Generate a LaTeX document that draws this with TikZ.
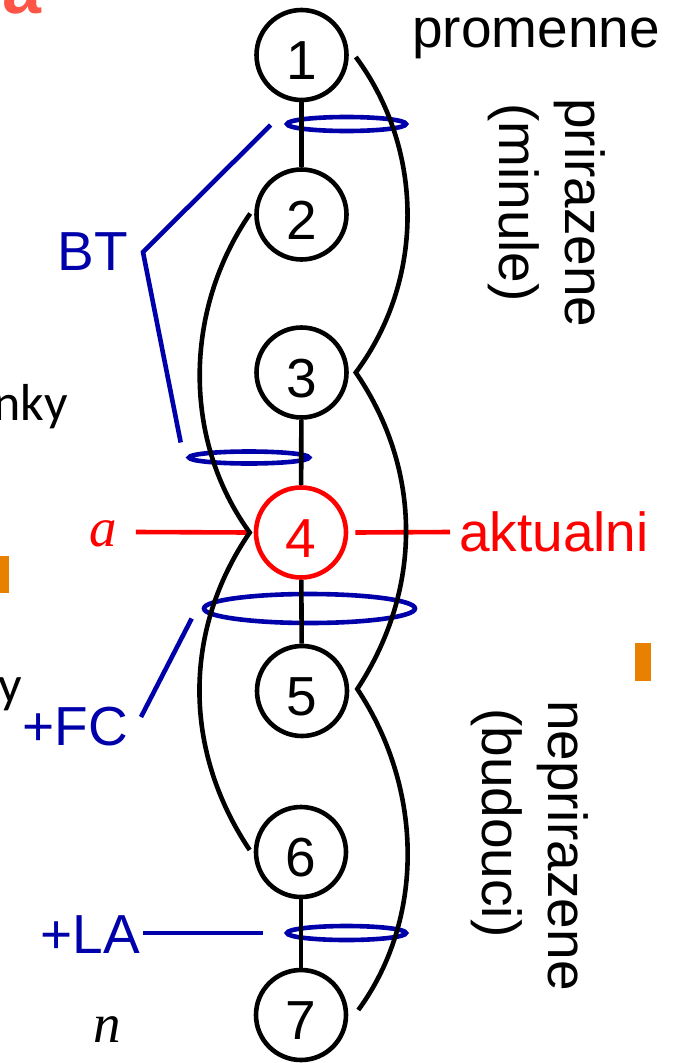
\documentclass[tikz,border=0pt]{standalone}
\usepackage{fontspec}
\setmainfont{Liberation Sans}
\newfontfamily\serifit{Liberation Serif}
\newfontfamily\calib{Carlito}
\usetikzlibrary{calc,shapes.geometric}
\definecolor{dblue}{RGB}{0,0,170}
\definecolor{orng}{RGB}{232,128,0}
\definecolor{coral}{RGB}{255,85,70}
\begin{document}
\begin{tikzpicture}[x=1pt,y=-1pt,
  vtx/.style={circle,draw=black,line width=4.6pt,minimum size=90pt,inner sep=0pt,
    text height=49pt,text depth=0pt,font=\fontsize{55}{66}\selectfont},
  curv/.style={vtx,draw=red,text=red},
  ring/.style={ellipse,draw=dblue,line width=4.6pt,inner sep=0pt},
  lbl/.style={inner sep=0pt,font=\fontsize{55}{66}\selectfont},
  blk/.style={line width=4.6pt,draw=black},
  bl/.style={draw=dblue,line width=4.6pt},
  rl/.style={draw=red,line width=4.6pt},
]
\useasboundingbox (0,0) rectangle (686,1063);

% partial texts and marks at the edges
\node[lbl,font=\bfseries\fontsize{70}{80}\selectfont,text=coral,anchor=base west] (ta) at (2,13) {a};
\node[lbl,font=\calib\fontsize{52}{60}\selectfont,anchor=base east] (nky) at (68,420) {nky};
\node[lbl,font=\calib\fontsize{52}{60}\selectfont,anchor=base east] (yy) at (22,702) {y};
\fill[orng] (0,556) rectangle (9,593);
\fill[orng] (635,643) rectangle (651,681);

% vertices
\node[vtx] (n1) at (301.5,55) {1};
\node[vtx] (n2) at (301.5,214.5) {2};
\node[vtx] (n3) at (301.5,372.5) {3};
\node[curv] (n4) at (301,532.5) {4};
\node[vtx] (n5) at (302,691) {5};
\node[vtx] (n6) at (301,852) {6};
\node[vtx] (n7) at (301,1015) {7};

% blue rings
\node[ring,minimum width=119pt,minimum height=14pt] (e1) at (346.5,124) {};
\node[ring,minimum width=120pt,minimum height=12pt] (e2) at (249,457.5) {};
\node[ring,minimum width=211pt,minimum height=29pt] (e3) at (309.5,608.5) {};
\node[ring,minimum width=119pt,minimum height=14pt] (e4) at (346.5,933) {};

% labels
\node[lbl,text=dblue,anchor=east] (bt) at (128,252) {BT};
\node[lbl,text=dblue,anchor=east] (fc) at (128,727) {+FC};
\node[lbl,text=dblue,anchor=east] (la) at (140,935) {+LA};
\node[lbl,text=red,font=\serifit\itshape\fontsize{55}{66}\selectfont] (aa) at (103,534) {a};
\node[lbl,text=red,anchor=west] (akt) at (459,532) {aktualni};
\node[lbl,font=\serifit\itshape\fontsize{55}{66}\selectfont] (nn) at (107,1030) {n};
\node[lbl,anchor=base west] (prom) at (412,47) {promenne};
\node[lbl,rotate=-90,anchor=base west] (pri) at (565,98) {prirazene};
\node[lbl,rotate=-90,anchor=base west] (mnl) at (499,103) {(minule)};
\node[lbl,rotate=-90,anchor=base west] (nep) at (548,700) {neprirazene};
\node[lbl,rotate=-90,anchor=base west] (bud) at (482,708) {(budouci)};

% blue connectors
\coordinate (btv) at ($(bt.east)+(15,0)$);
\draw[bl] ($(e1.west)+(-14,1)$) -- (btv) -- ($(e2.west)+(-6,-15)$);
\draw[bl] ($(e3.west)+(-10,10)$) -- ($(fc.east)+(13,-10)$);
\draw[bl] ($(la.east)+(3,-2)$) -- ($(e4.west)+(-22,0)$);

% red connectors
\draw[rl] ($(aa.east)+(19,-2)$) -- ($(n4.west)+(-4,0)$);
\draw[rl] ($(n4.east)+(7,0)$) -- ($(akt.west)+(-9,0)$);

% black chain
\draw[blk] (n1) -- (n2);
\draw[blk] (n3) -- (n4);
\draw[blk] (n4) -- (n5);
\draw[blk] (n6) -- (n7);

% black curves
\draw[blk] ($(n1.east)+(7,2)$) .. controls +(69,93) and +(69,-92) .. ($(n3.east)+(7,0)$)
  .. controls +(67,98) and +(65,-99) .. ($(n5.east)+(8,-2)$)
  .. controls +(67,101) and +(66,-90) .. ($(n7.east)+(10,-5)$);
\draw[blk] ($(n2.west)+(-4,-1)$) .. controls +(-67,97) and +(-67,-92) .. ($(n4.west)+(-4,0)$)
  .. controls +(-67,98) and +(-67,-100) .. ($(n6.west)+(-4,-2)$);
\end{tikzpicture}
\end{document}
